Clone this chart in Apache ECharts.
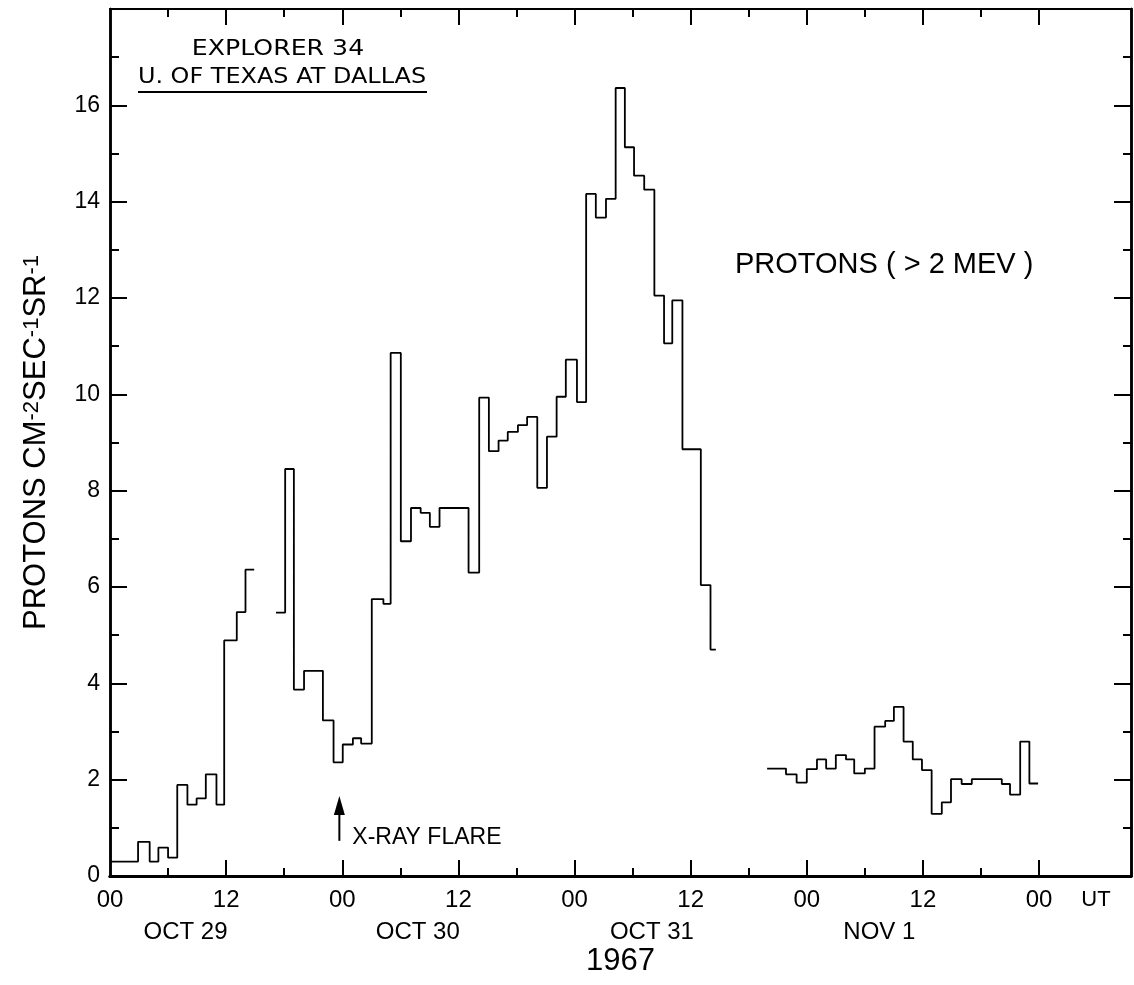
<!DOCTYPE html>
<html><head><meta charset="utf-8">
<script src="https://cdn.jsdelivr.net/npm/echarts@6/dist/echarts.min.js"></script>
<style>html,body{margin:0;padding:0;background:#fff}#c{width:1134px;height:985px}</style>
</head><body><div id="c"></div>
<script>
// ---- data (hours after 00 UT Oct 29 1967; flux in protons cm^-2 s^-1 sr^-1) ----
const seg1Edges = [0, 2.9, 4.1, 5.0, 6.0, 6.95, 8.0, 8.95, 9.9, 11.0, 11.8, 13.1, 14.0, 14.9];
const seg1Flux  = [0.30, 0.71, 0.30, 0.59, 0.38, 1.89, 1.48, 1.61, 2.11, 1.48, 4.89, 5.48, 6.36];

const seg2Edges = [17.15, 18.1, 19.0, 20.05, 22.0, 23.1, 24.05, 25.1, 25.95, 27.05, 28.25, 29.0, 30.05,
  31.1, 32.1, 33.05, 34.05, 37.05, 38.15, 39.15, 40.15, 41.1, 42.15, 43.1, 44.15, 45.15, 46.15, 47.1,
  48.25, 49.2, 50.2, 51.25, 52.25, 53.2, 54.15, 55.2, 56.25, 57.25, 58.1, 59.15, 61.05, 62.05, 62.6];
const seg2Flux  = [5.47, 8.45, 3.87, 4.26, 3.23, 2.36, 2.73, 2.86, 2.75, 5.75, 5.65, 10.86, 6.95,
  7.64, 7.54, 7.25, 7.64, 6.30, 9.93, 8.82, 9.04, 9.22, 9.36, 9.53, 8.06, 9.12, 9.95, 10.72,
  9.84, 14.16, 13.67, 14.06, 16.36, 15.13, 14.54, 14.25, 12.05, 11.06, 11.95, 8.86, 6.04, 4.70];

const seg3Edges = [67.9, 69.85, 70.95, 72.0, 73.05, 74.0, 75.0, 76.05, 76.9, 78.0, 79.0, 80.1, 81.0,
  82.0, 82.95, 83.9, 84.9, 85.95, 86.9, 88.0, 89.05, 92.15, 93.0, 94.05, 95.0, 95.9];
const seg3Flux  = [2.23, 2.11, 1.94, 2.22, 2.42, 2.23, 2.51, 2.42, 2.13, 2.23, 3.10, 3.22, 3.51,
  2.79, 2.42, 2.20, 1.29, 1.53, 2.01, 1.91, 2.01, 1.91, 1.69, 2.79, 1.92];

// ---- ticks and labels ----
const xLabelHours = [0, 12, 24, 36, 48, 60, 72, 84, 96];
const xLabelText  = ['00', '12', '00', '12', '00', '12', '00', '12', '00'];
const xMajorTicks = [12, 24, 36, 48, 60, 72, 84, 96];
const xMinorTicks = [6, 18, 30, 42, 54, 66, 78, 90];
const dateLabels  = ['OCT 29', 'OCT 30', 'OCT 31', 'NOV 1'];
const dateHours   = [7.8, 31.8, 56, 79.5];
const yLabelVals  = [0, 2, 4, 6, 8, 10, 12, 14, 16];
const yMajorTicks = [2, 4, 6, 8, 10, 12, 14, 16];
const yMinorTicks = [1, 3, 5, 7, 9, 11, 13, 15, 17];

const flareHour = 23.7, flareArrowFrom = 0.73, flareArrowTo = 1.66;

const X_MIN = 0, X_MAX = 105.5, Y_MIN = 0, Y_MAX = 18;
const FONT = '"Liberation Sans", Arial, Helvetica, sans-serif';
const LETTER = '"DejaVu Sans", "Liberation Sans", sans-serif';

function stepData(edges, vals) {
  const d = [];
  for (let i = 0; i < vals.length; i++) d.push([edges[i], vals[i]]);
  d.push([edges[edges.length - 1], vals[vals.length - 1]]);
  return d;
}

function xAx(pos, ticks, len, lineW, label) {
  return {
    type: 'value', position: pos, min: X_MIN, max: X_MAX, interval: 6,
    axisLine: { show: true, onZero: false, lineStyle: { color: '#000', width: lineW } },
    axisTick: { show: true, inside: true, length: len, customValues: ticks, lineStyle: { color: '#000', width: 2 } },
    axisLabel: label || { show: false },
    splitLine: { show: false }
  };
}
function yAx(pos, ticks, len, lineW, label) {
  return {
    type: 'value', position: pos, min: Y_MIN, max: Y_MAX, interval: 2,
    axisLine: { show: true, onZero: false, lineStyle: { color: '#000', width: lineW } },
    axisTick: { show: true, inside: true, length: len, customValues: ticks, lineStyle: { color: '#000', width: 2 } },
    axisLabel: label || { show: false },
    splitLine: { show: false }
  };
}

const chart = echarts.init(document.getElementById('c'), null, { renderer: 'canvas' });

const xAxes = [
  Object.assign(xAx('bottom', xMajorTicks, 16, 3, {
    show: true, customValues: xLabelHours, margin: 12, color: '#000', fontFamily: FONT, fontSize: 24,
    formatter: v => { const i = xLabelHours.indexOf(v); return i < 0 ? '' : xLabelText[i]; }
  }), { name: '1967', nameLocation: 'middle', nameGap: 70,
        nameTextStyle: { color: '#000', fontFamily: FONT, fontSize: 31 } }),
  xAx('bottom', xMinorTicks, 8, 3, {
    show: true, customValues: dateHours, margin: 44, color: '#000', fontFamily: FONT, fontSize: 24,
    formatter: v => { const i = dateHours.indexOf(v); return i < 0 ? '' : dateLabels[i]; }
  }),
  xAx('top', xMajorTicks, 16, 2),
  xAx('top', xMinorTicks, 8, 2)
];

const yAxes = [
  Object.assign(yAx('left', yMajorTicks, 17, 2.5, {
    show: true, customValues: yLabelVals, margin: 10, color: '#000', fontFamily: FONT, fontSize: 23,
    formatter: v => (yLabelVals.indexOf(v) < 0 ? '' : String(v))
  }), {
    name: 'PROTONS CM{s|-2}SEC{s|-1}SR{s|-1}', nameLocation: 'middle', nameGap: 58, nameRotate: 90,
    nameTextStyle: { color: '#000', fontFamily: FONT, fontSize: 31,
      rich: { s: { fontFamily: FONT, fontSize: 22, color: '#000', verticalAlign: 'top', lineHeight: 14 } } }
  }),
  yAx('left', yMinorTicks, 9, 2.5),
  yAx('right', yMajorTicks, 17, 2.5),
  yAx('right', yMinorTicks, 8, 2.5)
];

const lineStyle = { color: '#000', width: 1.8 };
function seriesOf(edges, vals) {
  return { type: 'line', step: 'end', xAxisIndex: 0, yAxisIndex: 0, showSymbol: false, symbol: 'none',
           silent: true, animation: false, lineStyle: lineStyle, data: stepData(edges, vals) };
}

chart.setOption({
  backgroundColor: '#fff',
  animation: false,
  grid: { left: 110, right: 3, top: 9, bottom: 109, containLabel: false, outerBoundsMode: 'none' },
  xAxis: xAxes,
  yAxis: yAxes,
  series: [seriesOf(seg1Edges, seg1Flux), seriesOf(seg2Edges, seg2Flux), seriesOf(seg3Edges, seg3Flux)]
});

// annotations
const pBot = chart.convertToPixel({ xAxisIndex: 0, yAxisIndex: 0 }, [flareHour, flareArrowFrom]);
const pTop = chart.convertToPixel({ xAxisIndex: 0, yAxisIndex: 0 }, [flareHour, flareArrowTo]);
const headH = 19, headW = 5.5;

chart.setOption({
  graphic: [
    { type: 'text', x: 278, y: 49.5, scaleX: 1.2, style: { text: 'EXPLORER 34', fill: '#000',
      font: '21px ' + LETTER, align: 'center', verticalAlign: 'middle' } },
    { type: 'text', x: 282, y: 77.5, scaleX: 1.14, style: { text: 'U. OF TEXAS AT DALLAS', fill: '#000',
      font: '21px ' + LETTER, align: 'center', verticalAlign: 'middle' } },
    { type: 'line', shape: { x1: 138, y1: 92, x2: 427, y2: 92 }, style: { stroke: '#000', lineWidth: 2 } },
    { type: 'text', x: 735, y: 265, style: { text: 'PROTONS ( > 2 MEV )', fill: '#000',
      font: '29px ' + FONT, align: 'left', verticalAlign: 'middle' } },
    { type: 'line', shape: { x1: pBot[0], y1: pBot[1], x2: pTop[0], y2: pTop[1] + headH - 2 },
      style: { stroke: '#000', lineWidth: 2 } },
    { type: 'polygon', shape: { points: [[pTop[0], pTop[1]], [pTop[0] - headW, pTop[1] + headH],
      [pTop[0] + headW, pTop[1] + headH]] }, style: { fill: '#000' } },
    { type: 'text', x: pTop[0] + 13, y: 838, style: { text: 'X-RAY FLARE', fill: '#000',
      font: '23px ' + FONT, align: 'left', verticalAlign: 'middle' } },
    { type: 'text', x: 1096, y: 900, style: { text: 'UT', fill: '#000',
      font: '22px ' + FONT, align: 'center', verticalAlign: 'middle' } }
  ]
});
</script></body></html>
